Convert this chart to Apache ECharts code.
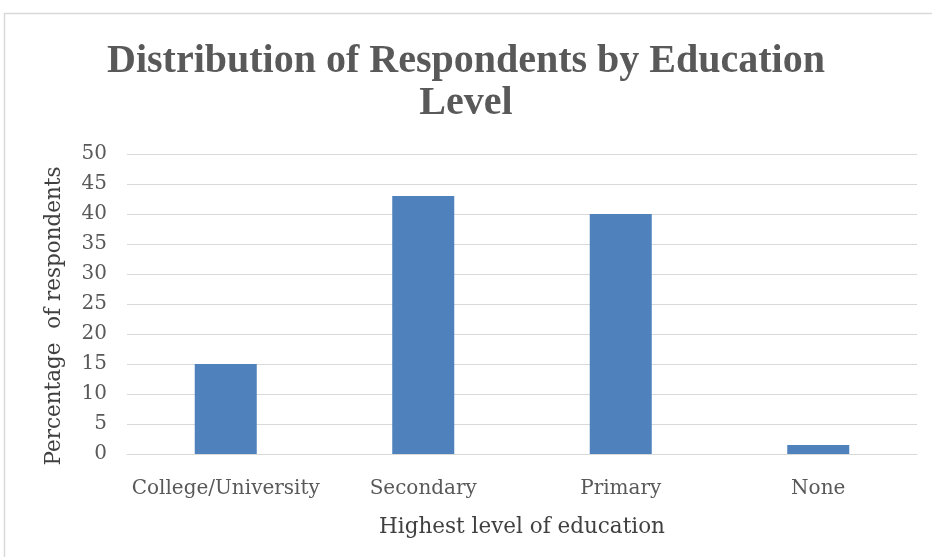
<!DOCTYPE html>
<html>
<head>
<meta charset="utf-8">
<script src="https://cdn.jsdelivr.net/npm/echarts@6/dist/echarts.min.js"></script>
<style>
html,body{margin:0;padding:0;background:#fff;}
#chart{width:932px;height:557px;}
</style>
</head>
<body>
<div id="chart"></div>
<script>
const categories = ['College/University', 'Secondary', 'Primary', 'None'];
const values = [15, 43, 40, 1.5];
const yTicks = { min: 0, max: 50, interval: 5 };
const titleText = 'Distribution of Respondents by Education\nLevel';
const xName = 'Highest level of education';
const yName = 'Percentage  of respondents';

const chart = echarts.init(document.getElementById('chart'), null, { renderer: 'canvas' });
const serif = 'DejaVu Serif';
chart.setOption({
  animation: false,
  backgroundColor: '#fff',
  graphic: [{
    type: 'rect',
    shape: { x: 4.5, y: 13.5, width: 940, height: 560 },
    style: { fill: 'none', stroke: '#d9d9d9', lineWidth: 1.5 },
    silent: true, z: -1
  }],
  title: {
    text: titleText,
    left: 'center',
    top: 36,
    textStyle: {
      fontFamily: 'Liberation Serif',
      fontWeight: 'bold',
      fontSize: 40,
      lineHeight: 42,
      color: '#595959'
    }
  },
  grid: { left: 127, right: 15, top: 154, bottom: 103, containLabel: false },
  xAxis: {
    type: 'category',
    data: categories,
    name: xName,
    nameLocation: 'middle',
    nameGap: 62,
    nameTextStyle: { fontFamily: serif, fontSize: 21.5, color: '#404040' },
    axisLine: { show: true, lineStyle: { color: '#d9d9d9', width: 1 } },
    axisTick: { show: false },
    axisLabel: { fontFamily: serif, fontSize: 20, color: '#595959', margin: 25, interval: 0 }
  },
  yAxis: {
    type: 'value',
    min: yTicks.min,
    max: yTicks.max,
    interval: yTicks.interval,
    name: yName,
    nameLocation: 'middle',
    nameGap: 62,
    nameTextStyle: { fontFamily: serif, fontSize: 21.5, color: '#404040', padding: [0, 24, 0, 0] },
    axisLine: { show: false },
    axisTick: { show: false },
    axisLabel: { fontFamily: serif, fontSize: 20, color: '#595959', margin: 20 },
    splitLine: { lineStyle: { color: '#d9d9d9', width: 1 } }
  },
  series: [{
    type: 'bar',
    data: values,
    barWidth: '31.4%',
    itemStyle: { color: '#4f81bd' }
  }]
});
</script>
</body>
</html>
